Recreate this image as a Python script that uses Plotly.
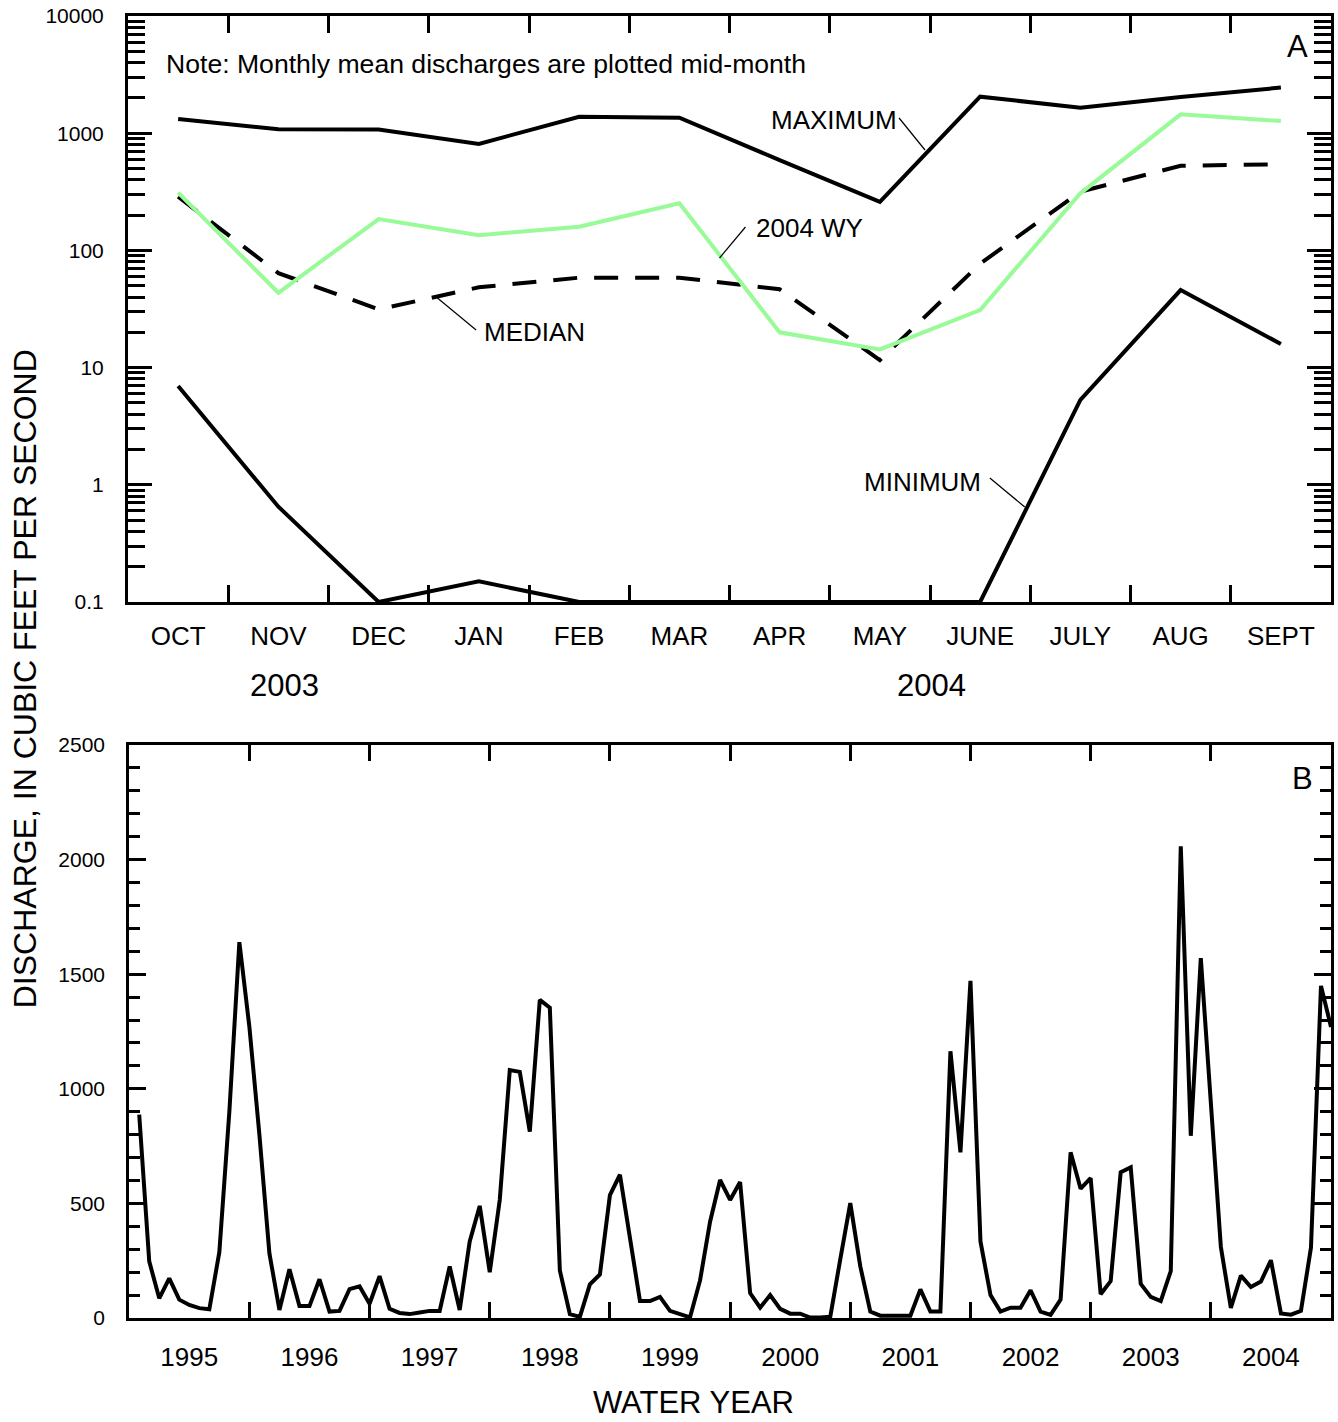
import plotly.graph_objects as go

# ---------------- data ----------------
months = ["OCT", "NOV", "DEC", "JAN", "FEB", "MAR", "APR", "MAY", "JUNE", "JULY", "AUG", "SEPT"]
maximum = [1320, 1080, 1075, 810, 1380, 1355, 590, 260, 2050, 1650, 2040, 2450]
median = [287, 64, 31.4, 48.4, 58.5, 58.5, 46.6, 11.6, 77, 317, 528, 543]
wy2004 = [311, 43.5, 185, 135, 159, 252, 20.0, 14.3, 31, 307, 1449, 1270]
minimum = [6.97, 0.65, 0.1, 0.15, 0.1, 0.1, 0.1, 0.1, 0.1, 5.3, 45.9, 15.9]

log_tick_values = [0.1, 1, 10, 100, 1000, 10000]
log_tick_text = ["0.1", "1", "10", "100", "1000", "10000"]

water_years = ["1995", "1996", "1997", "1998", "1999", "2000", "2001", "2002", "2003", "2004"]
q_wy1995 = [887, 247, 86, 173, 80, 57, 43, 38, 287, 900, 1640, 1270]
q_wy1996 = [800, 282, 35, 213, 52, 52, 169, 28, 31, 126, 138, 62]
q_wy1997 = [183, 40, 22, 17, 24, 31, 31, 225, 35, 334, 489, 200]
q_wy1998 = [515, 1082, 1074, 813, 1388, 1354, 207, 17, 5, 147, 190, 536]
q_wy1999 = [625, 350, 74, 74, 92, 31, 17, 3, 164, 420, 602, 515]
q_wy2000 = [593, 109, 45, 100, 40, 19, 19, 2, 2, 5, 256, 501]
q_wy2001 = [225, 28, 10, 10, 10, 10, 125, 28, 28, 1164, 723, 1471]
q_wy2002 = [334, 100, 28, 45, 45, 121, 28, 14, 80, 723, 564, 610]
q_wy2003 = [104, 161, 636, 657, 149, 92, 74, 204, 2058, 795, 1570, 950]
q_wy2004 = [311, 43.5, 185, 135, 159, 252, 20, 14.3, 31, 307, 1449, 1270]

monthly = (q_wy1995 + q_wy1996 + q_wy1997 + q_wy1998 + q_wy1999 +
           q_wy2000 + q_wy2001 + q_wy2002 + q_wy2003 + q_wy2004)
month_number = list(range(1, len(monthly) + 1))  # plotted at end of each month

# ---------------- layout helpers ----------------
W, H = 1338, 1422
L, R, T, B = 128, 4, 16, 104
PW, PH = W - L - R, H - T - B
FONT = "Liberation Sans, Arial, sans-serif"


def px(x, y):
    return (x - L) / PW, (H - B - y) / PH


top_dom = [px(0, 602)[1], 1.0]
bot_dom = [0.0, px(0, 745)[1]]

fig = go.Figure()

fig.add_trace(go.Scatter(x=months, y=maximum, mode="lines",
                         line=dict(color="black", width=4), xaxis="x", yaxis="y"))
fig.add_trace(go.Scatter(x=months, y=median, mode="lines",
                         line=dict(color="black", width=4, dash="24px,17px"), xaxis="x", yaxis="y"))
fig.add_trace(go.Scatter(x=months, y=wy2004, mode="lines",
                         line=dict(color="#98FB98", width=4), xaxis="x", yaxis="y"))
fig.add_trace(go.Scatter(x=months, y=minimum, mode="lines",
                         line=dict(color="black", width=4), xaxis="x", yaxis="y"))

fig.add_trace(go.Scatter(x=month_number, y=monthly, mode="lines",
                         line=dict(color="black", width=4), xaxis="x2", yaxis="y2"))

minor_log = [m * d for d in [0.1, 1, 10, 100, 1000] for m in range(2, 10)]

axis_common = dict(showline=True, linecolor="black", linewidth=3, mirror="ticks",
                   showgrid=False, zeroline=False, tickcolor="black", tickwidth=2.5,
                   tickfont=dict(family=FONT, size=26, color="black"))

n_years = len(water_years)

fig.update_layout(
    width=W, height=H,
    margin=dict(l=L, r=R, t=T, b=B),
    paper_bgcolor="white", plot_bgcolor="white",
    showlegend=False,
    font=dict(family=FONT, color="black"),
    xaxis=dict(axis_common, domain=[0, 1], anchor="y", type="category",
               range=[-0.5, len(months) - 0.5], tickson="boundaries",
               ticks="inside", ticklen=17, ticklabelstandoff=9),
    yaxis=dict(axis_common, domain=top_dom, anchor="x", type="log", range=[-1, 4],
               tickmode="array", tickvals=log_tick_values, ticktext=log_tick_text,
               ticks="inside", ticklen=24, ticklabelstandoff=17,
               tickfont=dict(family=FONT, size=21, color="black"),
               minor=dict(tickmode="array", tickvals=minor_log, ticks="inside", ticklen=17,
                          tickwidth=2.5, tickcolor="black", showgrid=False)),
    xaxis2=dict(axis_common, domain=[0.001, 1], anchor="y2", range=[0, 12 * n_years],
                tickmode="array", tickvals=[12 * i + 6 for i in range(n_years)],
                ticktext=water_years, ticks="inside", ticklen=0, ticklabelstandoff=14,
                minor=dict(tickmode="array", tickvals=[12 * i for i in range(1, n_years)],
                           ticks="inside", ticklen=16, tickwidth=2.5, tickcolor="black",
                           showgrid=False)),
    yaxis2=dict(axis_common, domain=bot_dom, anchor="x2", range=[0, 2500],
                tickmode="linear", tick0=0, dtick=500, ticks="inside", ticklen=17,
                ticklabelstandoff=17,
                tickfont=dict(family=FONT, size=21, color="black"),
                minor=dict(tickmode="linear", tick0=0, dtick=100, ticks="inside", ticklen=11,
                           tickwidth=2.5, tickcolor="black", showgrid=False)),
)

annotations = []


def add_text(text, x, y, size, xanchor="center", textangle=0):
    xp, yp = px(x, y)
    annotations.append(dict(text=text, x=xp, y=yp, xref="paper", yref="paper",
                            xanchor=xanchor, yanchor="middle", showarrow=False,
                            textangle=textangle,
                            font=dict(family=FONT, size=size, color="black")))


add_text("Note: Monthly mean discharges are plotted mid-month", 164, 64, 26.6, xanchor="left")
add_text("A", 1300, 46, 31)
add_text("B", 1305, 778, 31)
add_text("MAXIMUM", 836, 120, 26)
add_text("2004 WY", 811, 228, 26)
add_text("MEDIAN", 536, 332, 26)
add_text("MINIMUM", 924.5, 482, 26)
add_text("2003", 285, 685, 31)
add_text("2004", 934, 685, 31)
add_text("WATER YEAR", 695, 1402, 31)
add_text("DISCHARGE, IN CUBIC FEET PER SECOND", 25, 679, 32, textangle=-90)

fig.update_layout(annotations=annotations)

shapes = []
for (x0, y0, x1, y1) in [(901, 118, 927, 150), (747, 227, 721, 258),
                         (437, 297, 477, 330), (992, 478, 1027, 507)]:
    a = px(x0, y0)
    b = px(x1, y1)
    shapes.append(dict(type="line", xref="paper", yref="paper", x0=a[0], y0=a[1],
                       x1=b[0], y1=b[1], line=dict(color="black", width=1.2)))
fig.update_layout(shapes=shapes)

fig.write_html("out.html")
